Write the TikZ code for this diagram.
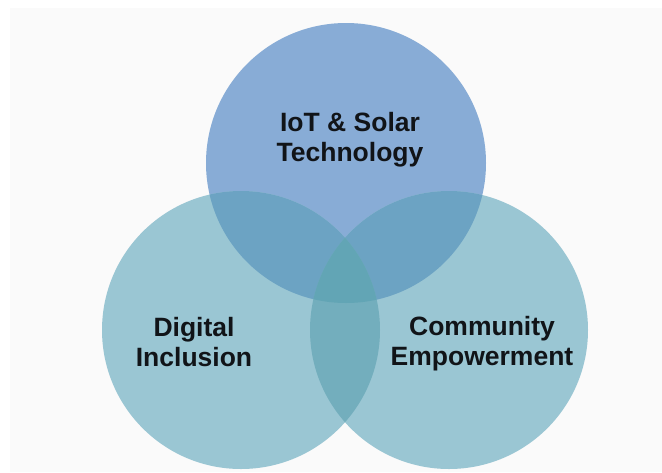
\documentclass[tikz,border=0pt]{standalone}
\usepackage{fontspec}
\setmainfont{Liberation Sans}
\definecolor{bgpanel}{HTML}{FAFAFA}
\definecolor{topc}{HTML}{88ACD6}
\definecolor{sidec}{HTML}{9AC6D3}
\definecolor{topside}{HTML}{6CA3C3}
\definecolor{lens}{HTML}{73AEBD}
\definecolor{centre}{HTML}{62A5B5}
\definecolor{ink}{HTML}{111418}
\tikzset{
  lbl/.style={font=\fontsize{26.5}{30}\selectfont\bfseries, text=ink, align=center, inner sep=0pt}
}
\begin{document}
\begin{tikzpicture}[x=1pt,y=-1pt]
\useasboundingbox (0,0) rectangle (662,472);
\fill[white] (0,0) rectangle (662,472);
\fill[bgpanel] (10,8) rectangle (662,472);
\def\vennT{(346,163) circle (140)}
\def\vennL{(241,330) circle (139)}
\def\vennR{(449,330) circle (139)}
\fill[topc] \vennT;
\fill[sidec] \vennL;
\fill[sidec] \vennR;
\begin{scope}\clip \vennT; \fill[topside] \vennL; \fill[topside] \vennR; \end{scope}
\begin{scope}\clip \vennL; \fill[lens] \vennR; \end{scope}
\begin{scope}\clip \vennT; \clip \vennL; \fill[centre] \vennR; \end{scope}
\node[lbl] (tech) at (350,140) {IoT \& Solar\\Technology};
\node[lbl] (digi) at (194,342) {Digital\\Inclusion};
\node[lbl] (comm) at (482,344) {Community\\Empowerment};
\end{tikzpicture}
\end{document}
